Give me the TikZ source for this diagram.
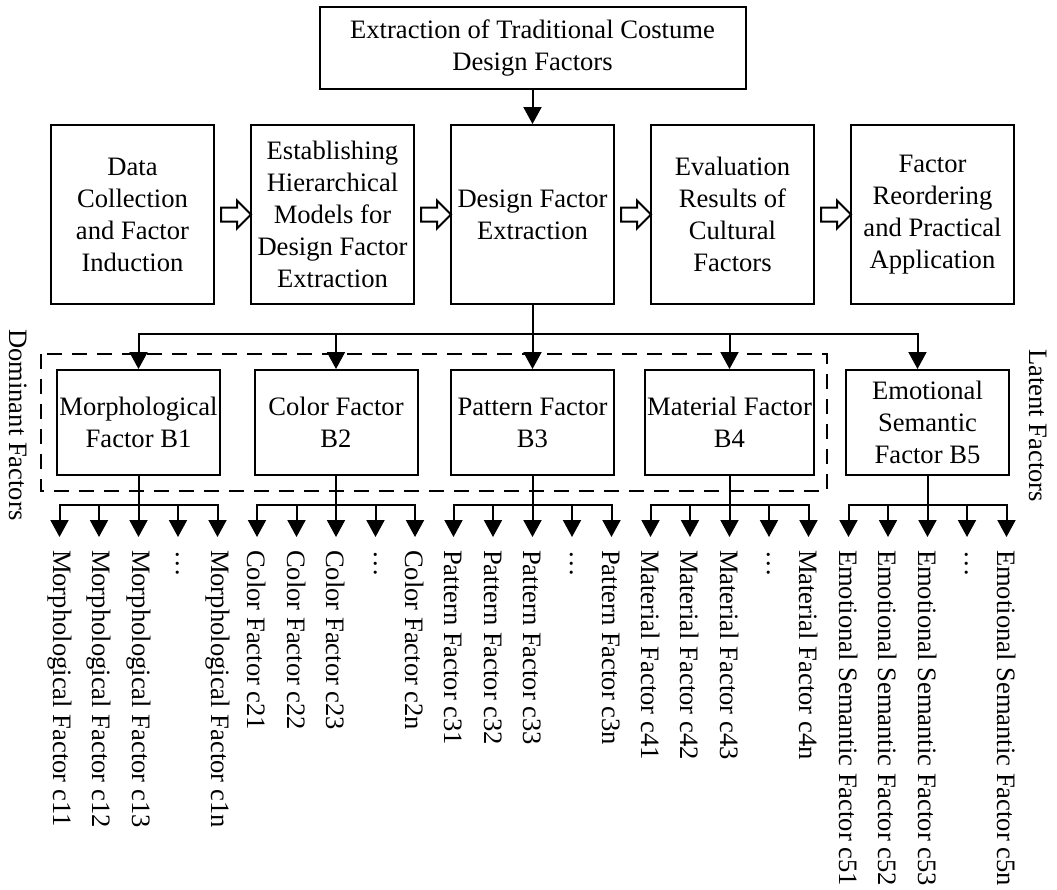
\documentclass[tikz,border=0pt]{standalone}
\usepackage{fontspec}
\setmainfont{Liberation Serif}
\usepackage{tikz}
\usetikzlibrary{arrows.meta}
\usetikzlibrary{calc, shapes.arrows}
\tikzset{
  stage/.style={draw, minimum width=81.5pt, minimum height=89.5pt, align=center, inner sep=1pt},
  factor/.style={draw, minimum width=81.5pt, minimum height=52.5pt, align=center, inner sep=1pt},
  leaf/.style={rotate=-90, anchor=west, inner xsep=6pt, inner ysep=0pt},
  side/.style={rotate=-90, anchor=west, inner sep=0pt},
  fatarrow/.style={draw, single arrow, inner sep=3pt, minimum height=15pt, single arrow head extend=3.5pt},
  tip/.style={-{Triangle[width=9pt, length=8.5pt]}}
}

\begin{document}
\begin{tikzpicture}[x=0.5pt, y=-0.5pt, line width=1pt, font=\fontsize{13.3}{16}\selectfont]
\newcommand{\rowtwo}{214.5}
\newcommand{\rowthree}{422.5}
\newcommand{\pitch}{39.5}
\useasboundingbox (0, 0) rectangle (1057, 890);
%% top of the flow
\node[draw, minimum width=213pt, minimum height=41pt, align=center] (top) at (532.5, 48) {Extraction of Traditional Costume\\Design Factors};
\node[stage] (S1) at (132.5, \rowtwo) {Data\\Collection\\and Factor\\Induction};
\node[stage] (S2) at (332.5, \rowtwo) {Establishing\\Hierarchical\\Models for\\Design Factor\\Extraction};
\node[stage] (S3) at (532.5, \rowtwo) {Design Factor\\Extraction};
\node[stage] (S4) at (732.5, \rowtwo) {Evaluation\\Results of\\Cultural\\Factors};
\node[stage] (S5) at (932.5, \rowtwo) {Factor\\Reordering\\and Practical\\Application};
\foreach \a/\b in {1/2, 2/3, 3/4, 4/5}
  \node[fatarrow] (h\a) at ($(S\a.east)!0.5!(S\b.west)$) {};
\draw[tip] (top) -- (S3);
%% factor layer
\node[factor] (B1) at (138.5, \rowthree) {Morphological\\Factor B1};
\node[factor] (B2) at (336, \rowthree) {Color Factor\\B2};
\node[factor] (B3) at (532.5, \rowthree) {Pattern Factor\\B3};
\node[factor] (B4) at (729.5, \rowthree) {Material Factor\\B4};
\node[factor] (B5) at (927.5, \rowthree) {Emotional\\Semantic\\Factor B5};
\coordinate (bus) at ($(S3.south)+(0, 29)$);
\foreach \g in {1, 2, 3, 4}
  \draw[tip] (S3.south) -- (bus) -| (B\g.north);
\draw[tip] (S3.south) -- (bus) -| ([xshift=-5pt]B5.north);
\draw[dash pattern=on 7.5pt off 5pt] (41, 354) rectangle (827, 491);
\node[side] (dom) at (18, 328) {Dominant Factors};
\node[side] (lat) at (1038, 348) {Latent Factors};
%% leaves
\foreach \g/\gx/\nm in {1/138.5/Morphological Factor, 2/336/Color Factor, 3/532.5/Pattern Factor, 4/729.5/Material Factor, 5/927.5/Emotional Semantic Factor} {
  \foreach \i/\lab in {1/\nm\ c\g1, 2/\nm\ c\g2, 3/\nm\ c\g3, 4/\dots, 5/\nm\ c\g n} {
    \node[leaf] (c\g\i) at (\gx-3*\pitch+\pitch*\i, 537) {\lab};
    \draw[tip] (B\g.south) -- ($(B\g.south)+(0, 29)$) -| (c\g\i.west);
  }
}
\end{tikzpicture}
\end{document}
